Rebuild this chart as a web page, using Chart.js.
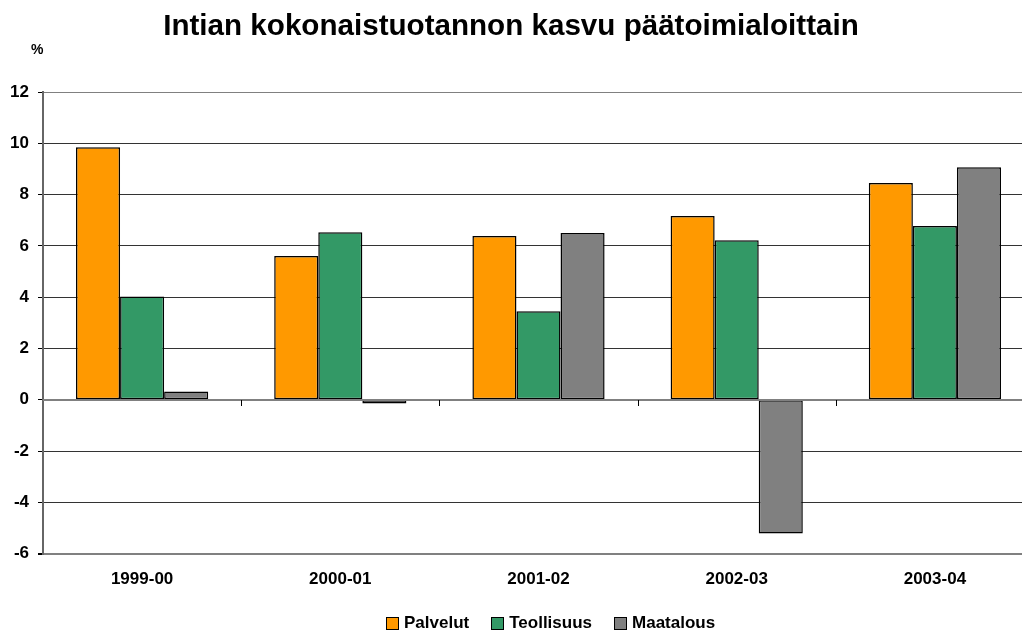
<!DOCTYPE html>
<html>
<head>
<meta charset="utf-8">
<script src="https://cdn.jsdelivr.net/npm/chart.js@4/dist/chart.umd.min.js"></script>
<style>
  html, body { margin: 0; padding: 0; background: #fff; overflow: hidden; }
  #wrap { position: relative; width: 1022px; height: 630px; overflow: hidden; background: #fff; }
  #box { position: absolute; left: 0; top: 0; width: 1036px; height: 630px; }
  .t { position: absolute; font-family: "Liberation Sans", Arial, sans-serif; font-weight: bold; color: #000; white-space: nowrap; }
  #title { left: 0; width: 1022px; text-align: center; top: 8px; font-size: 29.6px; }
  #pct { left: 31px; top: 41px; font-size: 14px; }
  #legend { left: 386px; top: 613px; font-size: 17px; display: flex; align-items: center; }
  #legend span.sw { display: inline-block; width: 11px; height: 11px; border: 1px solid #000; margin-right: 5px; }
  #legend span.it { display: inline-flex; align-items: center; margin-right: 22px; }
</style>
</head>
<body>
<div id="wrap">
  <div id="box"><canvas id="c" width="1036" height="630"></canvas></div>
  <div class="t" id="title">Intian kokonaistuotannon kasvu päätoimialoittain</div>
  <div class="t" id="pct">%</div>
  <div class="t" id="legend"></div>
</div>
<script>
const categories = ["1999-00", "2000-01", "2001-02", "2002-03", "2003-04"];
const seriesNames = ["Palvelut", "Teollisuus", "Maatalous"];
const palvelut = [9.85, 5.6, 6.38, 7.16, 8.45];
const teollisuus = [4.03, 6.53, 3.45, 6.22, 6.77];
const maatalous = [0.32, -0.15, 6.5, -5.22, 9.07];
const colors = ["#FF9900", "#339966", "#808080"];
const yTicks = [-6, -4, -2, 0, 2, 4, 6, 8, 10, 12];

const seriesValues = [palvelut, teollisuus, maatalous];

const leg = document.getElementById('legend');
seriesNames.forEach((n, i) => {
  const it = document.createElement('span');
  it.className = 'it';
  const sw = document.createElement('span');
  sw.className = 'sw';
  sw.style.background = colors[i];
  it.appendChild(sw);
  it.appendChild(document.createTextNode(n));
  leg.appendChild(it);
});

const boundaryTicks = {
  id: 'boundaryTicks',
  afterDatasetsDraw(chart) {
    const { ctx, scales: { x, y } } = chart;
    const y0 = Math.round(y.getPixelForValue(0));
    ctx.save();
    ctx.strokeStyle = '#808080';
    ctx.lineWidth = 2;
    ctx.beginPath();
    ctx.moveTo(chart.chartArea.left, y0);
    ctx.lineTo(chart.chartArea.right, y0);
    ctx.stroke();
    ctx.strokeStyle = '#000';
    ctx.lineWidth = 1;
    for (let i = 0; i < categories.length - 1; i++) {
      const xb = Math.round((x.getPixelForTick(i) + x.getPixelForTick(i + 1)) / 2) + 0.5;
      ctx.beginPath();
      ctx.moveTo(xb, y0);
      ctx.lineTo(xb, y0 + 6);
      ctx.stroke();
    }
    ctx.restore();
  }
};

new Chart(document.getElementById('c'), {
  type: 'bar',
  data: {
    labels: categories,
    datasets: seriesNames.map((n, i) => ({
      label: n,
      data: seriesValues[i],
      backgroundColor: colors[i],
      borderColor: '#000',
      borderWidth: 1.5,
      borderSkipped: false,
      barPercentage: 1.0,
      categoryPercentage: 0.667
    }))
  },
  options: {
    responsive: false,
    animation: false,
    devicePixelRatio: 1,
    layout: { padding: { top: 92, bottom: 24, left: 0, right: 2 } },
    plugins: { legend: { display: false }, title: { display: false }, tooltip: { enabled: false } },
    scales: {
      x: {
        offset: true,
        grid: { display: false, drawTicks: false },
        border: { display: false },
        ticks: { color: '#000', font: { family: 'Liberation Sans, Arial', weight: 'bold', size: 17 }, padding: 16, maxRotation: 0 }
      },
      y: {
        min: -6, max: 12,
        afterBuildTicks(scale) { scale.ticks = yTicks.map(v => ({ value: v })); },
        afterFit(scale) { scale.width = 43; },
        grid: {
          color: (c) => (c.tick && (c.tick.value === -6 || c.tick.value === 12)) ? '#808080' : '#333',
          lineWidth: (c) => (c.tick && (c.tick.value === -6)) ? 2 : 1,
          tickColor: '#000',
          tickLength: 5
        },
        border: { display: true, color: '#666', width: 2 },
        ticks: { color: '#000', font: { family: 'Liberation Sans, Arial', weight: 'bold', size: 17 }, padding: 9 }
      }
    }
  },
  plugins: [boundaryTicks]
});
</script>
</body>
</html>
